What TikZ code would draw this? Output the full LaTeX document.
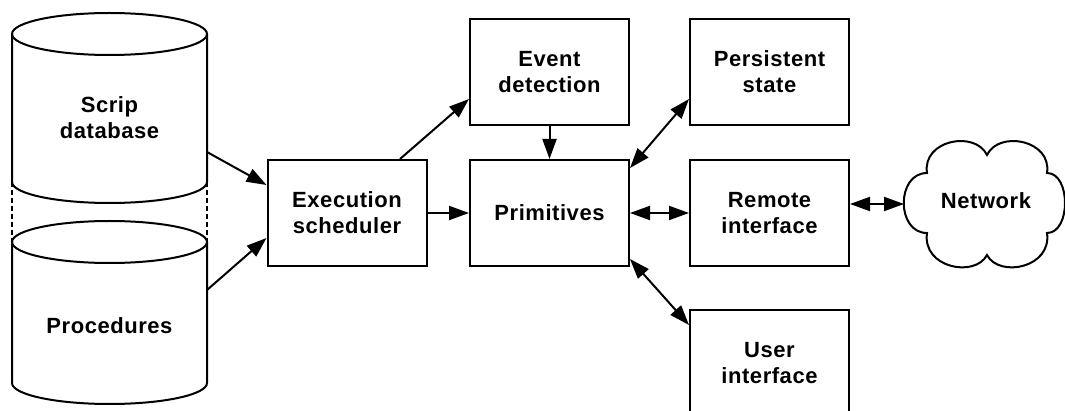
\documentclass[tikz,border=0pt]{standalone}
\usepackage{fontspec}
\setmainfont{Liberation Sans}[LetterSpace=2.5]
\usetikzlibrary{arrows.meta}
\newcommand\lblfont{\fontsize{22}{26}\selectfont\bfseries}
\begin{document}
\begin{tikzpicture}[x=1pt,y=-1pt,line width=2pt,
  box/.style={draw,rectangle,minimum width=159pt,minimum height=106pt,inner sep=0pt,align=center,font=\lblfont},
  lbl/.style={align=center,font=\lblfont,inner sep=0pt},
  tip/.tip={Triangle[length=20pt,width=14pt]},
  link/.style={-tip},
  dlink/.style={tip-tip},
  seam/.style={line width=1.5pt,dash pattern=on 5pt off 3pt},
]
\useasboundingbox (0,0) rectangle (1065,411);

% storage cylinders
\draw (109.5,34) ellipse[x radius=97.5pt,y radius=21pt];
\draw (12,34) -- (12,182) arc[start angle=180,end angle=360,x radius=97.5pt,y radius=21pt] -- (207,34);
\draw (109.5,242) ellipse[x radius=97.5pt,y radius=21pt];
\draw (12,242) -- (12,383) arc[start angle=180,end angle=360,x radius=97.5pt,y radius=21pt] -- (207,242);
\draw[seam] (12,182) -- (12,242);
\draw[seam] (207,182) -- (207,242);
\node[lbl] (scrip) at (109.5,118) {Scrip\\database};
\node[lbl] (proc) at (109.5,326) {Procedures};
\coordinate (scripout) at (207,152);
\coordinate (procout) at (207,290);

% processing blocks
\node[box] (exec) at (347,213) {Execution\\scheduler};
\node[box] (event) at (549.5,72) {Event\\detection};
\node[box] (prim) at (549.5,213) {Primitives};
\node[box] (pers) at (769.5,72) {Persistent\\state};
\node[box] (remote) at (769.5,213) {Remote\\interface};
\node[box] (user) at (769.5,363) {User\\interface};

% network cloud
\draw (927,173)
  .. controls (922,140) and (975,130) .. (987,155)
  .. controls (999,130) and (1052,140) .. (1047,173)
  .. controls (1071,173) and (1071,233) .. (1047,233)
  .. controls (1052,268) and (999,278) .. (987,255)
  .. controls (975,278) and (922,268) .. (927,233)
  .. controls (896,233) and (896,173) .. cycle;
\node[lbl] (net) at (986,201) {Network};
\coordinate (netin) at (904,204);

% connectors
\draw[link] (scripout) -- ([yshift=28pt]exec.west);
\draw[link] (procout) -- ([yshift=-25pt]exec.west);
\draw[link] ([xshift=53pt]exec.north) -- ([yshift=-27pt]event.west);
\draw[link] (exec.east) -- (prim.west);
\draw[link] (event.south) -- (prim.north);
\draw[dlink] ([yshift=45pt]prim.east) -- ([yshift=-27pt]pers.west);
\draw[dlink] (prim.east) -- (remote.west);
\draw[dlink] ([yshift=-46pt]prim.east) -- ([yshift=38pt]user.west);
\draw[dlink] (remote.east |- netin) -- (netin);
\end{tikzpicture}
\end{document}
